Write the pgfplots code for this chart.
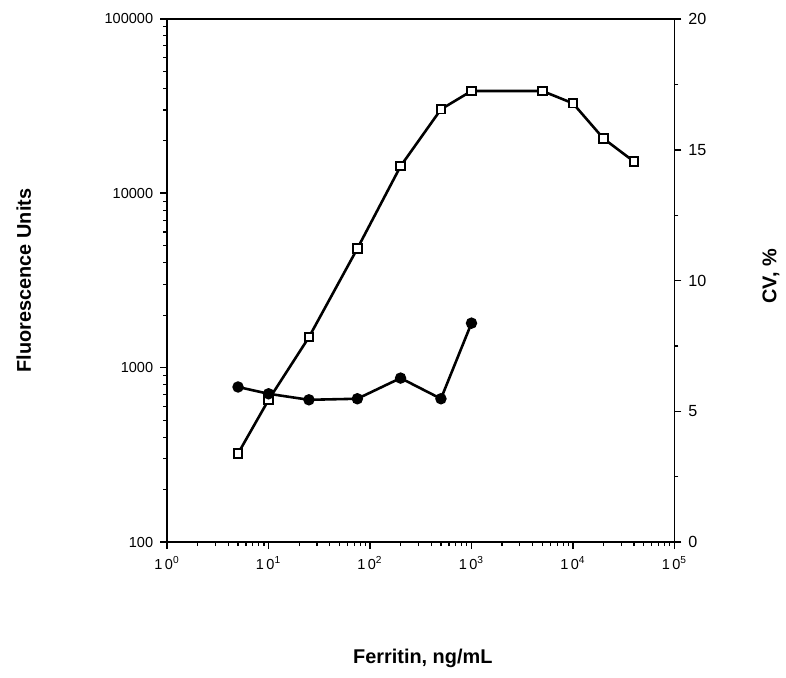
\documentclass[border=0pt]{standalone}
\usepackage{pgfplots}
\pgfplotsset{compat=1.18}
\usepackage{fontspec}
\setmainfont{Liberation Sans}

% fluorescence (left axis, log)
\pgfplotstableread{
x y
5 322
10 654
25 1496
75 4820
200 14300
500 30300
1000 38600
5000 38600
10000 32800
20000 20600
40000 15200
}\fluor

% CV (right axis, %)
\pgfplotstableread{
x y
5 5.93
10 5.67
25 5.44
75 5.48
200 6.27
500 5.48
1000 8.37
}\cv

\begin{document}
\begin{tikzpicture}
\pgfplotsset{
  every axis/.append style={
    scale only axis, width=255pt, height=263pt,
    xmode=log, xmin=1, xmax=100000,
    tick align=outside, axis line style={line width=0.9pt},
    major tick length=3.5pt, minor tick length=2pt,
    every tick/.style={black, line width=0.8pt},
    every minor tick/.style={black, line width=0.6pt},
  },
}
\begin{axis}[
  ymode=log, ymin=100, ymax=100000,
  axis y line*=left, axis x line*=box,
  xtick={1,10,100,1000,10000,100000},
  xticklabels={1\,0\textsuperscript{0},1\,0\textsuperscript{1},1\,0\textsuperscript{2},1\,0\textsuperscript{3},1\,0\textsuperscript{4},1\,0\textsuperscript{5}},
  ytick={100,1000,10000,100000},
  yticklabels={100,1000,10000,100000},
  ticklabel style={font=\fontsize{7.3}{8}\selectfont},
  xtick pos=bottom,
  xlabel={\bfseries Ferritin, ng/mL},
  ylabel={\bfseries Fluorescence Units},
  every axis x label/.style={at={(rel axis cs:0.504,0)}, yshift=-58.5pt, anchor=center, font=\fontsize{10}{12}\selectfont},
  every axis y label/.style={at={(rel axis cs:0,0.5)}, xshift=-72pt, rotate=90, anchor=center, font=\fontsize{10}{12}\selectfont},
]
\addplot[black, line width=1.3pt, mark=square*,
  mark options={solid, fill=white, draw=black, line width=1pt}, mark size=2.1pt]
  table[x=x, y=y] {\fluor};
\end{axis}
\begin{axis}[
  ymin=0, ymax=20,
  axis y line*=right, axis x line=none,
  ytick={0,5,10,15,20},
  yticklabels={0,5,10,15,20},
  minor ytick={2.5,7.5,12.5,17.5},
  yticklabel style={font=\fontsize{8.1}{9}\selectfont},
  ylabel={\bfseries CV, \%},
  every axis y label/.style={at={(rel axis cs:1,0.508)}, xshift=48.5pt, rotate=90, anchor=center, font=\fontsize{10}{12}\selectfont},
]
\addplot[black, line width=1.3pt, mark=*, mark size=2.2pt,
  mark options={solid}]
  table[x=x, y=y] {\cv};
\end{axis}
\useasboundingbox (-84pt,-68pt) rectangle (309pt,272.5pt);
\end{tikzpicture}
\end{document}
